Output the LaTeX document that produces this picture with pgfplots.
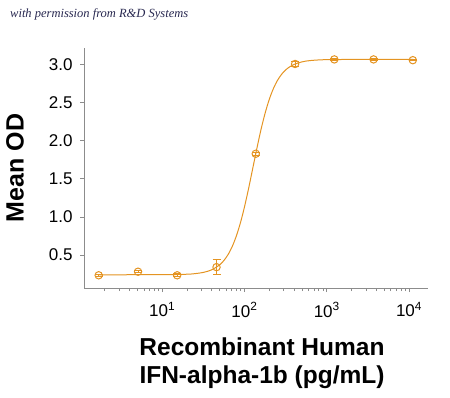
\documentclass[border=0pt]{standalone}
\usepackage{pgfplots}
\pgfplotsset{compat=1.18}
\usepackage{fontspec}
\setmainfont{Liberation Sans}
\newfontfamily\titlefont{Liberation Serif}
\definecolor{curve}{RGB}{228,148,34}
\definecolor{axgray}{RGB}{140,140,140}
\definecolor{navy}{RGB}{40,40,80}
\begin{document}
\begin{tikzpicture}[x=1pt,y=1pt]
\useasboundingbox (0,0) rectangle (450,397);
\begin{axis}[
  at={(84pt,109pt)}, anchor=south west,
  scale only axis, width=344pt, height=240pt,
  xmode=log, xmin=1.12, xmax=17000,
  ymin=0.066, ymax=3.22,
  axis x line*=bottom, axis y line*=left,
  axis line style={axgray, line width=0.9pt},
  every outer x axis line/.append style={-},
  every outer y axis line/.append style={-},
  xtick={10,100,1000,10000},
  xticklabels={10\textsuperscript{1},10\textsuperscript{2},10\textsuperscript{3},10\textsuperscript{4}},
  minor xtick={2,3,4,5,6,7,8,9,20,30,40,50,60,70,80,90,200,300,400,500,600,700,800,900,2000,3000,4000,5000,6000,7000,8000,9000},
  ytick={0.5,1.0,1.5,2.0,2.5,3.0},
  tick align=outside,
  major tick length=4pt, minor tick length=3pt,
  tick style={axgray, line width=0.8pt},
  /pgf/number format/assume math mode=true,
  yticklabel style={/pgf/number format/fixed, /pgf/number format/fixed zerofill, /pgf/number format/precision=1, xshift=-4pt},
  tick label style={font=\fontsize{17}{17}\selectfont, text=black},
  xticklabel style={yshift=-7pt},
  clip=false,
]
\addplot[curve, line width=1pt, smooth] coordinates {
(1.72,0.240) (10,0.241) (19.95,0.247) (25.12,0.255) (31.62,0.271) (39.81,0.304)
(50.12,0.372) (56.23,0.428) (63.10,0.505) (70.79,0.609) (79.43,0.747) (89.13,0.921)
(100,1.133) (112.2,1.375) (125.9,1.637) (141.3,1.899) (158.5,2.146) (177.8,2.361)
(199.5,2.541) (223.9,2.684) (251.2,2.793) (281.8,2.873) (316.2,2.932) (354.8,2.973)
(398.1,3.003) (501.2,3.038) (631.0,3.055) (1000,3.067) (3162,3.07) (11220,3.07)
};
\addplot[curve, only marks, line width=1pt, mark=o, mark size=3.7pt,
  error bars/.cd, y dir=both, y explicit, error mark options={rotate=90, mark size=4pt, curve, line width=1pt},
  error bar style={curve, line width=1pt}]
coordinates {
(1.69,0.233) +- (0,0.01)
(5.08,0.28) +- (0,0.01)
(15.2,0.233) +- (0,0.02)
(45.7,0.34) +- (0,0.10)
(137,1.83) +- (0,0.02)
(412,3.01) +- (0,0.035)
(1235,3.07) +- (0,0.01)
(3704,3.07) +- (0,0.01)
(11111,3.06) +- (0,0.01)
};
\end{axis}
\node[rotate=90, font=\bfseries\fontsize{25}{25}\selectfont] at (15,229) {Mean OD};
\node[anchor=base, font=\bfseries\fontsize{24.5}{24.5}\selectfont] at (262,42) {Recombinant Human};
\node[anchor=base, font=\bfseries\fontsize{24.5}{24.5}\selectfont] at (262,14) {IFN-alpha-1b (pg/mL)};
\node[anchor=base west, inner sep=0pt, text=navy, font=\titlefont\itshape\fontsize{12.5}{12.5}\selectfont] at (10,379) {with permission from R\&D Systems};
\end{tikzpicture}
\end{document}
